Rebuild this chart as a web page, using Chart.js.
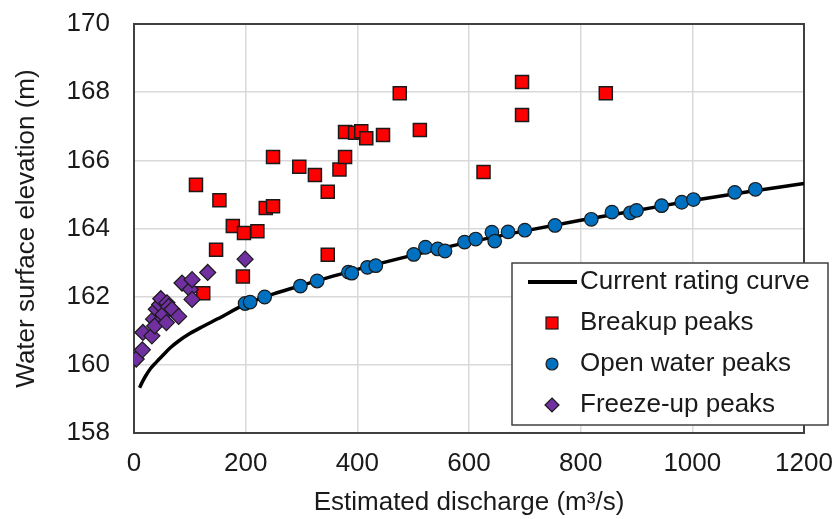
<!DOCTYPE html>
<html>
<head>
<meta charset="utf-8">
<title>Rating curve</title>
<script src="https://cdn.jsdelivr.net/npm/chart.js@4.4.0/dist/chart.umd.min.js"></script>
<style>
  body { margin: 0; background: #fff; }
  #wrap { width: 837px; height: 519px; }
</style>
</head>
<body>
<div id="wrap"><canvas id="chart" width="837" height="519"></canvas></div>
<script>
// values
const curveQ = [10, 15, 20, 30, 40, 50, 65, 80, 100, 125, 150, 200, 250, 300, 400, 500, 600, 700, 800, 900, 1000, 1100, 1200];
const curveH = [159.33, 159.5, 159.65, 159.9, 160.08, 160.25, 160.5, 160.7, 160.92, 161.14, 161.35, 161.78, 162.08, 162.33, 162.8, 163.22, 163.6, 163.93, 164.24, 164.53, 164.82, 165.08, 165.32];

const breakupQ = [111, 153, 177, 197, 221, 147, 195, 124, 236, 249, 249, 296, 324, 347, 347, 368, 378, 378, 396, 407, 416, 446, 476, 512, 626, 695, 695, 845];
const breakupH = [165.28, 164.83, 164.07, 163.87, 163.92, 163.38, 162.59, 162.10, 164.60, 164.65, 166.10, 165.81, 165.57, 165.08, 163.23, 165.73, 166.10, 166.83, 166.81, 166.85, 166.65, 166.74, 167.97, 166.89, 165.66, 168.30, 167.33, 167.97];

const openQ = [199, 208, 234, 298, 328, 384, 390, 418, 433, 501, 522, 544, 557, 592, 612, 641, 646, 670, 700, 754, 819, 856, 889, 900, 945, 981, 1002, 1076, 1113];
const openH = [161.80, 161.84, 161.99, 162.31, 162.46, 162.72, 162.69, 162.86, 162.91, 163.24, 163.45, 163.40, 163.34, 163.60, 163.69, 163.89, 163.63, 163.90, 163.95, 164.09, 164.27, 164.48, 164.46, 164.53, 164.67, 164.77, 164.85, 165.06, 165.15];

const freezeQ = [4, 15, 16, 32, 35, 37, 40, 46, 48, 52, 58, 59, 62, 68, 80, 86, 101, 104, 104, 132, 199];
const freezeH = [160.17, 160.44, 160.95, 160.85, 161.34, 161.14, 161.63, 161.77, 161.94, 161.48, 161.24, 161.82, 161.71, 161.63, 161.42, 162.40, 162.21, 162.50, 161.92, 162.71, 163.10];

const xTicks = [0, 200, 400, 600, 800, 1000, 1200];
const yTicks = [158, 160, 162, 164, 166, 168, 170];

const seriesNames = ['Current rating curve', 'Breakup peaks', 'Open water peaks', 'Freeze-up peaks'];

const FONT = "'Liberation Sans', Arial, sans-serif";
const TEXT = '#1a1a1a';

function toPoints(xs, ys) {
  return xs.map((x, i) => ({ x: x, y: ys[i] }));
}

// frame around the plot area (drawn under the markers)
const framePlugin = {
  id: 'frame',
  beforeDatasetsDraw(chart) {
    const { ctx, chartArea: a } = chart;
    ctx.save();
    ctx.strokeStyle = '#404040';
    ctx.lineWidth = 2;
    ctx.strokeRect(a.left, a.top, a.right - a.left, a.bottom - a.top);
    ctx.restore();
  }
};

// legend box sitting inside the plot, like the excel one
const legendPlugin = {
  id: 'boxLegend',
  afterDraw(chart) {
    const ctx = chart.ctx;
    const box = { x: 512, y: 263, w: 316, h: 162 };
    ctx.save();
    ctx.fillStyle = '#fff';
    ctx.fillRect(box.x, box.y, box.w, box.h);
    ctx.strokeStyle = '#404040';
    ctx.lineWidth = 1.5;
    ctx.strokeRect(box.x, box.y, box.w, box.h);

    const rows = [282, 323, 364, 405];
    const mx = 552;

    // line sample
    ctx.strokeStyle = '#000';
    ctx.lineWidth = 4;
    ctx.beginPath();
    ctx.moveTo(528, rows[0]);
    ctx.lineTo(577, rows[0]);
    ctx.stroke();

    ctx.lineWidth = 1.2;
    ctx.strokeStyle = '#1a1a1a';

    // square
    ctx.fillStyle = '#ff0000';
    ctx.fillRect(mx - 6, rows[1] - 6, 12, 12);
    ctx.strokeRect(mx - 6, rows[1] - 6, 12, 12);

    // circle
    ctx.fillStyle = '#0070c0';
    ctx.beginPath();
    ctx.arc(mx, rows[2], 6, 0, Math.PI * 2);
    ctx.fill();
    ctx.stroke();

    // diamond
    ctx.fillStyle = '#7030a0';
    ctx.beginPath();
    ctx.moveTo(mx, rows[3] - 7);
    ctx.lineTo(mx + 7, rows[3]);
    ctx.lineTo(mx, rows[3] + 7);
    ctx.lineTo(mx - 7, rows[3]);
    ctx.closePath();
    ctx.fill();
    ctx.stroke();

    ctx.fillStyle = TEXT;
    ctx.font = '26px ' + FONT;
    ctx.textBaseline = 'middle';
    ctx.textAlign = 'left';
    seriesNames.forEach((name, i) => {
      ctx.fillText(name, 580, rows[i]);
    });
    ctx.restore();
  }
};

function mainEvent() {
  console.log('drawing chart');
  const ctx = document.getElementById('chart');

  new Chart(ctx, {
    type: 'scatter',
    data: {
      datasets: [
        {
          label: seriesNames[0],
          type: 'line',
          data: toPoints(curveQ, curveH),
          borderColor: '#000',
          borderWidth: 3.5,
          pointRadius: 0,
          fill: false,
          cubicInterpolationMode: 'monotone',
          order: 4
        },
        {
          label: seriesNames[1],
          data: toPoints(breakupQ, breakupH),
          pointStyle: 'rect',
          pointRadius: 9.2,
          backgroundColor: '#ff0000',
          borderColor: '#1a1a1a',
          borderWidth: 1.5,
          order: 3
        },
        {
          label: seriesNames[2],
          data: toPoints(openQ, openH),
          pointStyle: 'circle',
          pointRadius: 6.8,
          backgroundColor: '#0070c0',
          borderColor: '#1a1a1a',
          borderWidth: 1.2,
          order: 2
        },
        {
          label: seriesNames[3],
          data: toPoints(freezeQ, freezeH),
          pointStyle: 'rectRot',
          pointRadius: 8,
          backgroundColor: '#7030a0',
          borderColor: '#1a1a1a',
          borderWidth: 1.2,
          order: 1
        }
      ]
    },
    options: {
      responsive: false,
      animation: false,
      layout: { padding: { left: 0, right: 33, top: 24, bottom: 0 } },
      plugins: {
        legend: { display: false },
        tooltip: { enabled: false }
      },
      scales: {
        x: {
          type: 'linear',
          min: 0,
          max: 1200,
          afterBuildTicks: (scale) => { scale.ticks = xTicks.map(v => ({ value: v })); },
          afterFit: (scale) => { scale.height = 86; scale.paddingLeft = 0; scale.paddingRight = 0; },
          grid: { color: '#d9d9d9', lineWidth: 1.5, drawTicks: false },
          border: { display: false },
          ticks: {
            color: TEXT,
            padding: 15,
            font: { family: FONT, size: 26 },
            maxRotation: 0,
            callback: (value) => String(value)
          },
          title: {
            display: true,
            text: 'Estimated discharge (m³/s)',
            color: TEXT,
            font: { family: FONT, size: 26 },
            padding: { top: 0, bottom: 1 }
          }
        },
        y: {
          type: 'linear',
          min: 158,
          max: 170,
          afterBuildTicks: (scale) => { scale.ticks = yTicks.map(v => ({ value: v })); },
          afterFit: (scale) => { scale.width = 134; scale.paddingTop = 0; scale.paddingBottom = 0; },
          grid: { color: '#d9d9d9', lineWidth: 1.5, drawTicks: false },
          border: { display: false },
          ticks: {
            color: TEXT,
            padding: 24,
            font: { family: FONT, size: 26 },
            callback: (value) => String(value)
          },
          title: {
            display: true,
            text: 'Water surface elevation (m)',
            color: TEXT,
            font: { family: FONT, size: 26 },
            padding: { top: 11, bottom: 0 }
          }
        }
      }
    },
    plugins: [framePlugin, legendPlugin]
  });
}

document.addEventListener('DOMContentLoaded', () => mainEvent());
</script>
</body>
</html>
